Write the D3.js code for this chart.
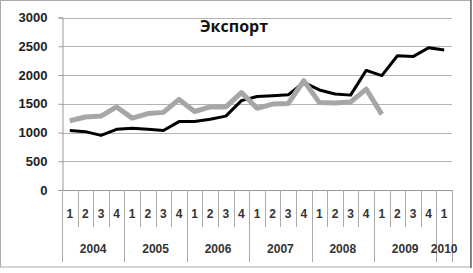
<!DOCTYPE html>
<html>
<head>
<meta charset="utf-8">
<script src="https://cdn.jsdelivr.net/npm/d3@7"></script>
<style>
  body { margin: 0; background: #fff; }
  svg { display: block; }
</style>
</head>
<body>
<svg id="chart" width="473" height="273"></svg>
<script>
const years = ["2004", "2005", "2006", "2007", "2008", "2009", "2010"];
const quarters = [
  "2004-1", "2004-2", "2004-3", "2004-4",
  "2005-1", "2005-2", "2005-3", "2005-4",
  "2006-1", "2006-2", "2006-3", "2006-4",
  "2007-1", "2007-2", "2007-3", "2007-4",
  "2008-1", "2008-2", "2008-3", "2008-4",
  "2009-1", "2009-2", "2009-3", "2009-4",
  "2010-1"
];
const blackSeries = [1035, 1015, 950, 1055, 1075, 1055, 1035, 1190, 1190, 1230, 1285, 1555,
  1625, 1640, 1655, 1870, 1740, 1670, 1650, 2080, 1990, 2335, 2320, 2475, 2435];
const greySeries = [1205, 1270, 1285, 1445, 1250, 1330, 1350, 1575, 1365, 1445, 1445, 1695,
  1420, 1495, 1505, 1900, 1520, 1515, 1530, 1755, 1315];
const yTicks = [0, 500, 1000, 1500, 2000, 2500, 3000];
const title = "Экспорт";

const svg = d3.select("#chart");
const W = 473, H = 273;
const m = { left: 62, right: 21, top: 17.5, plotBottom: 190 };
const font = "Liberation Sans, Arial, sans-serif";

// outer frame
svg.append("rect")
  .attr("x", 0.5).attr("y", 0.5)
  .attr("width", 470).attr("height", 266.5)
  .attr("fill", "#fff")
  .attr("stroke", "#aaa");
svg.append("line")
  .attr("x1", 471).attr("x2", 471).attr("y1", 0).attr("y2", 268)
  .attr("stroke", "#666").attr("stroke-width", 1.5);

const x = d3.scaleBand()
  .domain(quarters)
  .range([m.left, W - m.right]);

const y = d3.scaleLinear()
  .domain([0, 3000])
  .range([m.plotBottom, m.top]);

// grid
svg.append("g")
  .selectAll("line")
  .data(yTicks.filter(d => d > 0))
  .join("line")
  .attr("x1", m.left).attr("x2", W - m.right)
  .attr("y1", d => Math.round(y(d)) + 0.5).attr("y2", d => Math.round(y(d)) + 0.5)
  .attr("stroke", "#b4b4b4");

// y axis
const yAxis = svg.append("g")
  .attr("transform", `translate(${m.left + 0.5},0)`)
  .call(d3.axisLeft(y).tickValues(yTicks).tickFormat(d3.format("d")).tickSize(4).tickPadding(11));
yAxis.select(".domain").attr("stroke", "#999");
yAxis.selectAll(".tick line").attr("stroke", "#999");
yAxis.selectAll(".tick text")
  .attr("font-family", font)
  .attr("font-size", 13)
  .attr("font-weight", "bold")
  .attr("fill", "#222");

// x axis baseline
svg.append("line")
  .attr("x1", m.left).attr("x2", W - m.right)
  .attr("y1", m.plotBottom + 0.5).attr("y2", m.plotBottom + 0.5)
  .attr("stroke", "#999");

// category separators
const bounds = quarters.map(q => ({ pos: x(q), yearStart: q.endsWith("-1") }));
bounds.push({ pos: x(quarters[quarters.length - 1]) + x.bandwidth(), yearStart: true });
svg.append("g")
  .selectAll("line")
  .data(bounds)
  .join("line")
  .attr("x1", d => Math.round(d.pos) + 0.5).attr("x2", d => Math.round(d.pos) + 0.5)
  .attr("y1", m.plotBottom)
  .attr("y2", d => d.yearStart ? 262 : 227)
  .attr("stroke", "#aaa");

// quarter labels
svg.append("g")
  .selectAll("text")
  .data(quarters)
  .join("text")
  .attr("x", d => x(d) + x.bandwidth() / 2)
  .attr("y", 218)
  .attr("text-anchor", "middle")
  .attr("font-family", font)
  .attr("font-size", 12)
  .attr("font-weight", "bold")
  .attr("fill", "#333")
  .text(d => d.split("-")[1]);

// year labels
svg.append("g")
  .selectAll("text")
  .data(years)
  .join("text")
  .attr("x", d => {
    const qs = quarters.filter(q => q.startsWith(d));
    return (x(qs[0]) + x(qs[qs.length - 1]) + x.bandwidth()) / 2;
  })
  .attr("y", 253)
  .attr("text-anchor", "middle")
  .attr("font-family", font)
  .attr("font-size", 12)
  .attr("font-weight", "bold")
  .attr("fill", "#333")
  .text(d => d);

// lines
const line = d3.line()
  .x((d, i) => x(quarters[i]) + x.bandwidth() / 2)
  .y(d => y(d));

svg.append("path")
  .datum(blackSeries)
  .attr("fill", "none")
  .attr("stroke", "#000")
  .attr("stroke-width", 3)
  .attr("stroke-linejoin", "round")
  .attr("d", line);

svg.append("path")
  .datum(greySeries)
  .attr("fill", "none")
  .attr("stroke", "#a6a6a6")
  .attr("stroke-width", 5)
  .attr("stroke-linejoin", "round")
  .attr("d", line);

// title
svg.append("text")
  .attr("x", 234)
  .attr("y", 32)
  .attr("text-anchor", "middle")
  .attr("font-family", "Open Sans, Liberation Sans, sans-serif")
  .attr("font-size", 16)
  .attr("font-weight", "bold")
  .attr("fill", "#111")
  .text(title);
</script>
</body>
</html>
